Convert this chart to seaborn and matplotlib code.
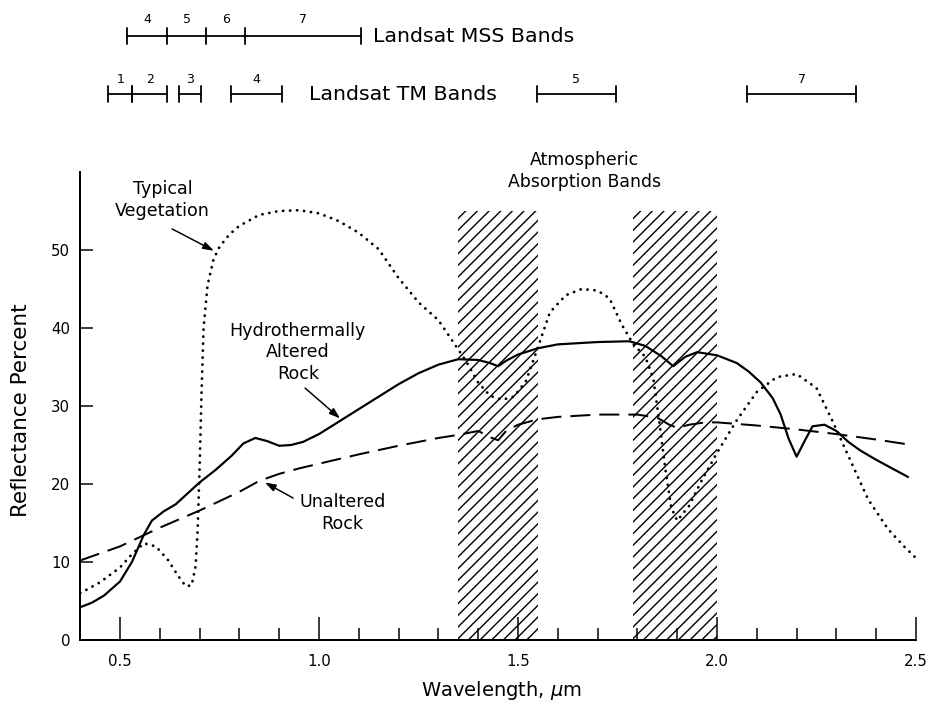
import matplotlib
matplotlib.use("Agg")
import matplotlib.pyplot as plt
import seaborn as sns

# ---------------- data ----------------
veg_wl = [0.40, 0.45, 0.50, 0.53, 0.56, 0.59, 0.62, 0.645, 0.665, 0.68, 0.69, 0.695,
          0.70, 0.705, 0.71, 0.72, 0.735, 0.75, 0.775, 0.80, 0.85, 0.90, 0.95, 1.00,
          1.05, 1.10, 1.15, 1.20, 1.25, 1.30, 1.34, 1.37, 1.40, 1.43, 1.46, 1.49,
          1.52, 1.55, 1.58, 1.62, 1.66, 1.70, 1.73, 1.76, 1.79, 1.82, 1.84, 1.855,
          1.87, 1.885, 1.90, 1.93, 1.96, 2.00, 2.05, 2.10, 2.15, 2.20, 2.25, 2.29,
          2.33, 2.38, 2.43, 2.47, 2.50]
veg_refl = [6.0, 7.4, 9.3, 11.0, 12.4, 12.0, 10.3, 8.3, 6.9, 7.0, 9.5, 14.0,
            22.0, 32.0, 40.0, 45.5, 48.8, 50.4, 52.0, 53.1, 54.5, 55.0, 55.1, 54.7,
            53.7, 52.2, 50.1, 46.4, 43.3, 41.0, 38.0, 35.7, 33.0, 31.3, 30.8, 31.2,
            33.2, 37.5, 42.0, 44.2, 45.0, 44.8, 43.8, 40.5, 37.9, 36.3, 33.5, 28.0,
            22.0, 17.0, 15.3, 17.2, 20.3, 24.0, 28.2, 31.8, 33.7, 34.1, 32.3, 28.1,
            23.6, 18.0, 14.2, 12.0, 10.5]

alt_wl = [0.40, 0.43, 0.46, 0.50, 0.53, 0.56, 0.58, 0.61, 0.64, 0.67, 0.70, 0.74,
          0.78, 0.81, 0.84, 0.87, 0.90, 0.93, 0.96, 1.00, 1.05, 1.10, 1.15, 1.20,
          1.25, 1.30, 1.35, 1.40, 1.43, 1.45, 1.47, 1.50, 1.55, 1.60, 1.70, 1.78,
          1.82, 1.86, 1.89, 1.92, 1.95, 2.00, 2.05, 2.08, 2.11, 2.14, 2.16, 2.18,
          2.20, 2.22, 2.24, 2.27, 2.30, 2.33, 2.36, 2.40, 2.44, 2.48]
alt_refl = [4.2, 4.8, 5.7, 7.5, 10.0, 13.5, 15.3, 16.5, 17.4, 18.8, 20.2, 21.8,
            23.6, 25.2, 25.9, 25.5, 24.9, 25.0, 25.4, 26.4, 28.0, 29.6, 31.2, 32.8,
            34.2, 35.3, 36.0, 35.9, 35.5, 35.1, 35.8, 36.6, 37.4, 37.9, 38.2, 38.3,
            37.7, 36.4, 35.1, 36.3, 36.9, 36.5, 35.5, 34.4, 33.0, 31.0, 28.9, 25.8,
            23.5, 25.5, 27.4, 27.6, 26.8, 25.4, 24.3, 23.1, 22.0, 20.9]

unalt_wl = [0.40, 0.45, 0.50, 0.55, 0.60, 0.65, 0.70, 0.75, 0.80, 0.85, 0.90, 0.95,
            1.00, 1.10, 1.20, 1.30, 1.35, 1.40, 1.43, 1.45, 1.47, 1.50, 1.55, 1.60,
            1.70, 1.80, 1.85, 1.88, 1.90, 1.93, 1.97, 2.00, 2.10, 2.20, 2.30, 2.40, 2.49]
unalt_refl = [10.2, 11.1, 12.0, 13.2, 14.4, 15.5, 16.6, 17.8, 19.0, 20.4, 21.3, 22.0,
              22.6, 23.8, 24.9, 25.9, 26.3, 26.8, 26.0, 25.6, 26.8, 27.6, 28.3, 28.6,
              28.9, 28.9, 28.5, 27.6, 27.2, 27.6, 27.9, 27.9, 27.5, 27.0, 26.4, 25.7, 25.0]

absorption_lo = [1.35, 1.79]
absorption_hi = [1.55, 2.00]
absorption_top = 55

mss_edges = [0.518, 0.619, 0.716, 0.815, 1.105]
mss_labels = ["4", "5", "6", "7"]
tm_starts = [0.470, 0.531, 0.648, 0.778, 1.547, 2.075]
tm_ends = [0.531, 0.619, 0.703, 0.908, 1.745, 2.350]
tm_labels = ["1", "2", "3", "4", "5", "7"]

xtick_major = [0.5, 1.0, 1.5, 2.0, 2.5]
xtick_labels = ["0.5", "1.0", "1.5", "2.0", "2.5"]
xtick_minor = [0.6, 0.7, 0.8, 0.9, 1.1, 1.2, 1.3, 1.4, 1.6, 1.7, 1.8, 1.9,
               2.1, 2.2, 2.3, 2.4]
ytick_vals = [0, 10, 20, 30, 40, 50]
ytick_labels = ["0", "10", "20", "30", "40", "50"]

# ---------------- styling ----------------
DPI = 140
W, H = 928, 705


def pt(px):
    return px * 72.0 / DPI


sns.set_theme(style="ticks")
plt.rcParams["font.family"] = ["DejaVu Sans"]
plt.rcParams["mathtext.fontset"] = "dejavusans"
plt.rcParams["hatch.linewidth"] = pt(1.4)
plt.rcParams["hatch.color"] = "black"
plt.rcParams["text.color"] = "black"
plt.rcParams["axes.labelcolor"] = "black"
plt.rcParams["xtick.color"] = "black"
plt.rcParams["ytick.color"] = "black"

fig = plt.figure(figsize=(W / DPI, H / DPI), dpi=DPI)
fig.patch.set_facecolor("white")
ax = fig.add_axes([80.2 / W, 1 - 640 / H, 835.8 / W, 468 / H])
ax.set_facecolor("white")
ax.set_xlim(0.4, 2.5)
ax.set_ylim(0, 60)

# absorption bands (hatched)
for lo, hi in zip(absorption_lo, absorption_hi):
    ax.fill_between([lo, hi], 0, absorption_top, facecolor="none",
                    edgecolor="black", hatch="////", linewidth=0, zorder=1)

# curves
common = dict(color="black", ax=ax, estimator=None, sort=False, legend=False)
sns.lineplot(x=alt_wl, y=alt_refl, linewidth=pt(2.2), linestyle="-", zorder=3, **common)
sns.lineplot(x=unalt_wl, y=unalt_refl, linewidth=pt(2.0),
             linestyle=(0, (10, 4.5)), zorder=3, **common)
sns.lineplot(x=veg_wl, y=veg_refl, linewidth=pt(2.8),
             linestyle=(0, (0.05, 2.45)), dash_capstyle="round", zorder=3, **common)

# spines / ticks
sns.despine(ax=ax)
for s in ["left", "bottom"]:
    ax.spines[s].set_linewidth(pt(2.0))
    ax.spines[s].set_color("black")
ax.set_xticks(xtick_major)
ax.set_xticklabels(xtick_labels)
ax.set_xticks(xtick_minor, minor=True)
ax.set_yticks(ytick_vals)
ax.set_yticklabels(ytick_labels)
ax.tick_params(axis="x", which="major", direction="in", length=pt(23), width=pt(1.5),
               pad=pt(14), labelsize=pt(15), colors="black")
ax.tick_params(axis="x", which="minor", direction="in", length=pt(12), width=pt(1.5),
               colors="black")
ax.tick_params(axis="y", which="major", direction="in", length=pt(13), width=pt(1.5),
               pad=pt(10), labelsize=pt(15), colors="black")

# axis labels
ax.set_xlabel(r"Wavelength, $\mu$m", fontsize=pt(19.5), va="center", ha="center",
              color="black")
ax.xaxis.set_label_coords((501 - 80.2) / 835.8, (640 - 690) / 468)
ax.set_ylabel("Reflectance Percent", fontsize=pt(21.5), va="center", ha="center",
              color="black")
ax.yaxis.set_label_coords((21 - 80.2) / 835.8, (640 - 410) / 468)

# annotations
ann_fs = pt(17.5)
arrow = dict(arrowstyle="-|>,head_length=0.45,head_width=0.15", color="black",
             lw=pt(1.5), shrinkA=0, shrinkB=0, mutation_scale=pt(20))
ax.text(0.607, 56.4, "Typical\nVegetation", ha="center", va="center",
        fontsize=ann_fs, linespacing=1.25, color="black")
ax.annotate("", xy=(0.736, 49.9), xytext=(0.631, 52.7), arrowprops=arrow)

ax.text(0.947, 36.9, "Hydrothermally\nAltered\nRock", ha="center", va="center",
        fontsize=ann_fs, linespacing=1.25, color="black")
ax.annotate("", xy=(1.053, 28.4), xytext=(0.965, 32.3), arrowprops=arrow)

ax.text(1.059, 16.3, "Unaltered\nRock", ha="center", va="center",
        fontsize=ann_fs, linespacing=1.25, color="black")
ax.annotate("", xy=(0.864, 20.2), xytext=(0.935, 18.2), arrowprops=arrow)

ax.text(1.668, 60.1, "Atmospheric\nAbsorption Bands", ha="center", va="center",
        fontsize=pt(17.3), linespacing=1.3, color="black")

# Landsat band brackets above the plot
band_lw = pt(1.8)
mss_y, tm_y = 77.4, 70.0
tick_h = 1.0
ax.plot([mss_edges[0], mss_edges[-1]], [mss_y, mss_y], color="black", lw=band_lw,
        clip_on=False)
for e in mss_edges:
    ax.plot([e, e], [mss_y - tick_h, mss_y + tick_h], color="black", lw=band_lw,
            clip_on=False)
for a, b, lab in zip(mss_edges[:-1], mss_edges[1:], mss_labels):
    ax.text((a + b) / 2, mss_y + 2.2, lab, ha="center", va="center",
            fontsize=pt(12.5), color="black")
ax.text(1.136, mss_y, "Landsat MSS Bands", ha="left", va="center",
        fontsize=pt(20.5), color="black")

for a, b, lab in zip(tm_starts, tm_ends, tm_labels):
    ax.plot([a, b], [tm_y, tm_y], color="black", lw=band_lw, clip_on=False)
    for e in (a, b):
        ax.plot([e, e], [tm_y - tick_h, tm_y + tick_h], color="black", lw=band_lw,
                clip_on=False)
    ax.text((a + b) / 2, tm_y + 1.9, lab, ha="center", va="center",
            fontsize=pt(12.5), color="black")
ax.text(0.975, tm_y, "Landsat TM Bands", ha="left", va="center",
        fontsize=pt(20.5), color="black")

fig.savefig("out.png", dpi=DPI, facecolor="white")
